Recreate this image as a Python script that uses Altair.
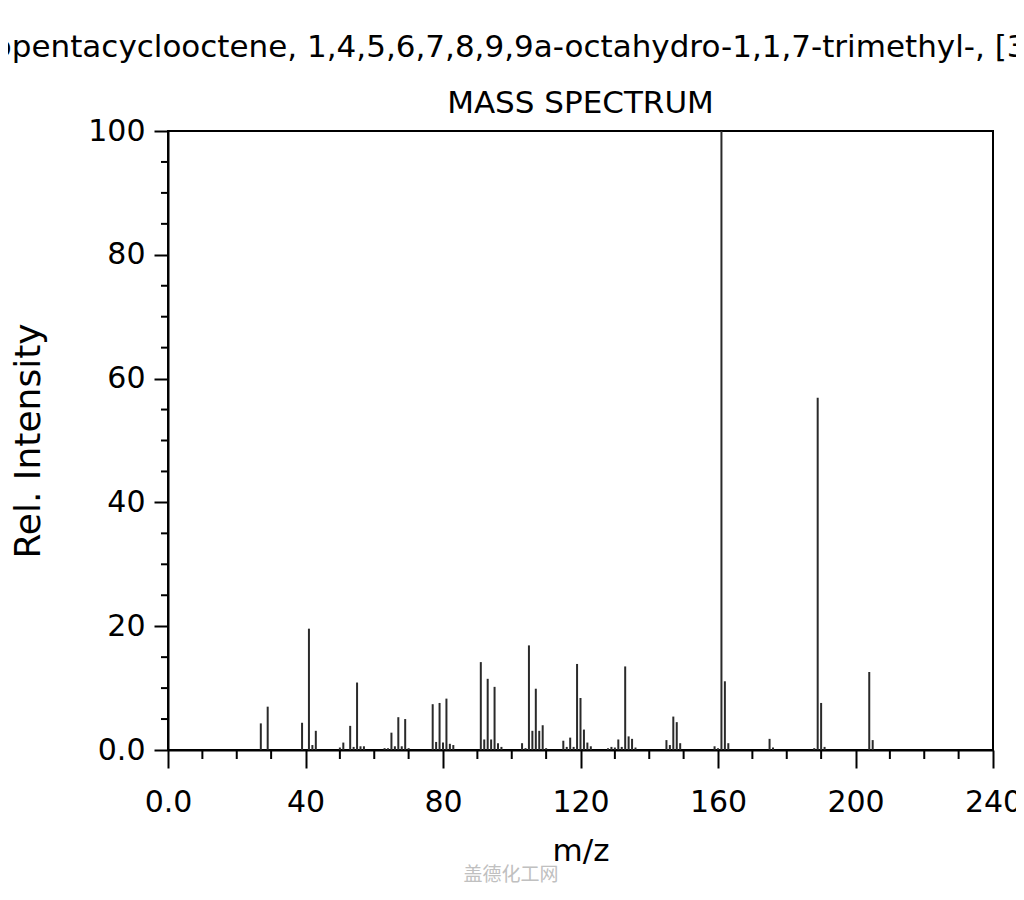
import altair as alt
import pandas as pd

compound_name = "3a,7-Methano-3aH-cyclopentacyclooctene, 1,4,5,6,7,8,9,9a-octahydro-1,1,7-trimethyl-, [3aR-(3a\u03b1,7\u03b1,9a\u03b2)]-"
chart_title = "MASS SPECTRUM"
watermark = "盖德化工网"

mz = [27, 29, 39, 41, 42, 43, 50, 51, 53, 54, 55, 56, 57, 63, 64, 65, 66, 67, 68, 69, 70,
      77, 78, 79, 80, 81, 82, 83, 91, 92, 93, 94, 95, 96, 97, 103, 104, 105, 106, 107, 108,
      109, 110, 115, 116, 117, 118, 119, 120, 121, 122, 123, 128, 129, 130, 131, 132, 133,
      134, 135, 136, 145, 146, 147, 148, 149, 159, 160, 161, 162, 163, 175, 176, 188, 189,
      190, 191, 204, 205]
intensity = [4.3, 7.0, 4.4, 19.6, 0.8, 3.1, 0.4, 1.2, 3.9, 0.5, 10.9, 0.6, 0.6, 0.3, 0.3, 2.8,
             0.6, 5.3, 0.6, 5.0, 0.3, 7.4, 1.3, 7.6, 1.2, 8.3, 1.0, 0.8, 14.2, 1.7, 11.5, 1.7,
             10.2, 1.1, 0.5, 1.1, 0.3, 16.9, 3.1, 9.9, 3.1, 4.0, 0.3, 1.5, 0.5, 2.0, 0.5, 13.9,
             8.4, 3.3, 1.2, 0.6, 0.3, 0.5, 0.4, 1.7, 0.5, 13.5, 2.2, 1.8, 0.4, 1.6, 0.8, 5.4,
             4.5, 1.1, 0.6, 0.3, 100.0, 11.1, 1.1, 1.8, 0.4, 0.3, 56.9, 7.6, 0.5, 12.6, 1.6]

x_major = [0, 40, 80, 120, 160, 200, 240]
x_minor = [v for v in range(10, 240, 10) if v % 40 != 0]
y_major = [0, 20, 40, 60, 80, 100]
y_minor = [v for v in range(5, 100, 5) if v % 20 != 0]

W, H = 825, 619
FONT = "DejaVu Sans"

df = pd.DataFrame({"mz": mz, "intensity": intensity})
xscale = alt.Scale(domain=[0, 240], nice=False, zero=False)
yscale = alt.Scale(domain=[0, 100], nice=False)

x_axis = alt.Axis(
    values=x_major, labelExpr="datum.value == 0 ? '0.0' : datum.label",
    tickSize=18, tickWidth=2, tickColor="black", domainColor="black", domainWidth=2,
    labelFontSize=30, labelFont=FONT, labelColor="black", labelPadding=19,
    labelFlush=False, labelOverlap=False,
    title="m/z", titleFontSize=31, titleFont=FONT, titleFontWeight="normal",
    titleColor="black", titlePadding=19, grid=False)
y_axis = alt.Axis(
    values=y_major, labelExpr="datum.value == 0 ? '0.0' : datum.label",
    tickSize=14, tickWidth=2, tickColor="black", domainColor="black", domainWidth=2,
    labelFontSize=30, labelFont=FONT, labelColor="black", labelPadding=9,
    labelFlush=False, labelOverlap=False,
    title="Rel. Intensity", titleFontSize=36, titleFont=FONT, titleFontWeight="normal",
    titleColor="black", titlePadding=40, grid=False)

bars = alt.Chart(df).mark_rule(color="#2a2a2a", strokeWidth=2).encode(
    x=alt.X("mz:Q", scale=xscale, axis=x_axis),
    y=alt.Y("intensity:Q", scale=yscale, axis=y_axis),
    y2=alt.datum(0),
)

xminor = alt.Chart(pd.DataFrame({"mz": x_minor})).mark_rule(color="black", strokeWidth=2).encode(
    x=alt.X("mz:Q", scale=xscale, axis=x_axis),
    y=alt.value(H), y2=alt.value(H + 9),
)
yminor = alt.Chart(pd.DataFrame({"intensity": y_minor})).mark_rule(color="black", strokeWidth=2).encode(
    y=alt.Y("intensity:Q", scale=yscale, axis=y_axis),
    x=alt.value(-7), x2=alt.value(0),
)

name_text = alt.Chart(pd.DataFrame({"t": [compound_name]})).mark_text(
    font=FONT, fontSize=31, color="black", align="center", baseline="alphabetic"
).encode(text="t:N", x=alt.value(299), y=alt.value(-74))

title_text = alt.Chart(pd.DataFrame({"t": [chart_title]})).mark_text(
    font=FONT, fontSize=31, color="black", align="center", baseline="alphabetic"
).encode(text="t:N", x=alt.value(W / 2), y=alt.value(-18))

wm_text = alt.Chart(pd.DataFrame({"t": [watermark]})).mark_text(
    font="Noto Sans CJK SC", fontSize=19, color="#c0c0c0", align="center", baseline="middle"
).encode(text="t:N", x=alt.value(343), y=alt.value(744))

chart = alt.layer(bars, xminor, yminor, name_text, title_text, wm_text).properties(
    width=W, height=H,
    autosize=alt.AutoSizeParams(type="none"),
    padding={"left": 160, "top": 123, "right": 23, "bottom": 150},
).configure(background="white").configure_view(stroke="black", strokeWidth=2)

chart.save("out.html", embed_options={"renderer": "svg", "actions": False})
